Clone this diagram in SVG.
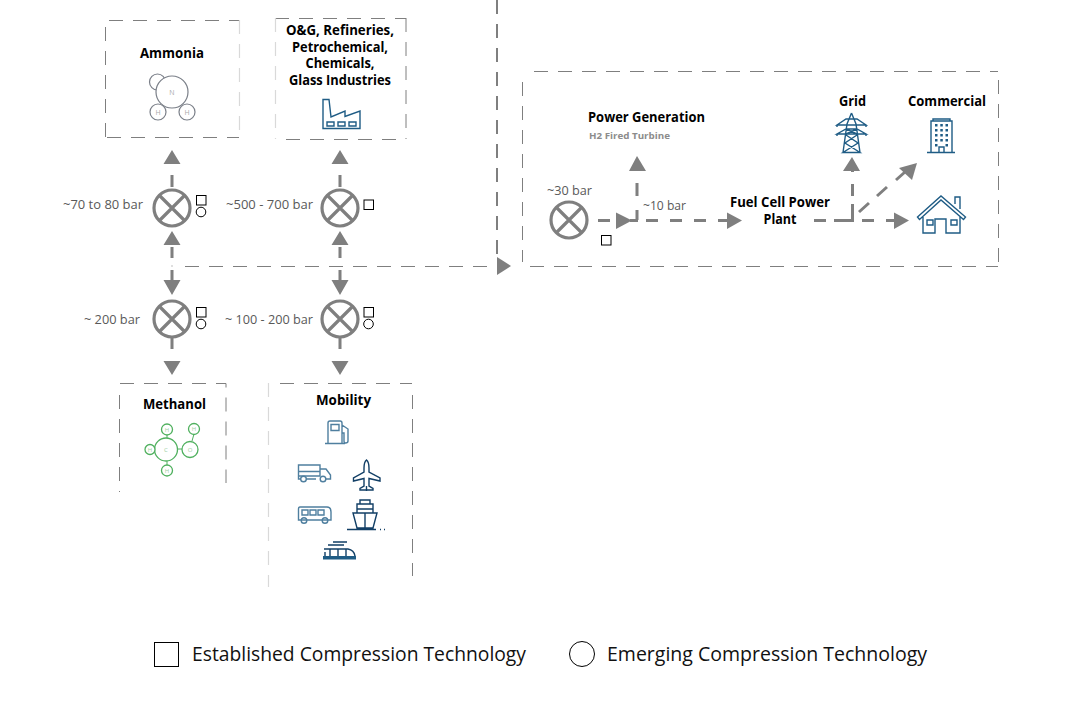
<svg xmlns="http://www.w3.org/2000/svg" width="1080" height="709" viewBox="0 0 1080 709">
<defs>
<style>
text{font-family:"Open Sans","Noto Sans","Liberation Sans",sans-serif}
.box{fill:none;stroke:#7f7f7f;stroke-width:1;stroke-dasharray:14 10}
.lt{stroke:#d9d9d9;stroke-width:1.2}
.cn{fill:none;stroke:#7f7f7f;stroke-width:3}
.hd{fill:#7f7f7f}
.thin{fill:none;stroke:#7f7f7f;stroke-width:1;stroke-dasharray:14 10}
.comp{fill:none;stroke:#7f7f7f;stroke-width:3.2}
.t{font-size:13.5px;font-weight:700;fill:#000;text-anchor:middle}
.v{font-size:13px;fill:#595959}
.mk{fill:#fff;stroke:#000;stroke-width:1}
.ic{fill:none;stroke:#1f5c85;stroke-width:1.4}
.icl{fill:none;stroke:#4f7f9f;stroke-width:1.4}
.icd{fill:none;stroke:#123f66;stroke-width:1.4}
.am{fill:#fff;stroke:#7a7f88;stroke-width:1.2}
.at{font-size:7px;fill:#aaa;text-anchor:middle}
.me{fill:#fff;stroke:#4fb05e;stroke-width:1.3}
.mt{font-size:6px;fill:#9ccf9f;text-anchor:middle}
.lg{font-size:20px;font-weight:500;fill:#111}
</style>
<g id="cp"><circle r="18" class="comp"/><path class="comp" d="M-12.500-12.500L12.500 12.500M12.500-12.500L-12.500 12.500"/></g>
</defs>
<rect width="1080" height="709" fill="#fff"/>
<g id="connectors">
<path class="thin" d="M185 266.500H497"/>
<path class="thin" d="M172 265.500v1"/>
<path fill="none" stroke="#7f7f7f" stroke-width="2" stroke-dasharray="14 10" d="M497 0V257"/>
<path class="hd" d="M497 257L511 266L497 275Z"/>
<path class="cn" d="M172 175V187M172 247V258M172 270V281M172 336V349M340 175V187M340 247V258M340 270V281M340 336V349"/>
<path class="hd" d="M172 150L180.500 164H163.500ZM340 150L348.500 164H331.500ZM172 231L180.500 245H163.500ZM340 231L348.500 245H331.500ZM163.500 280H180.500L172 295ZM331.500 280H348.500L340 295ZM163.500 361H180.500L172 375ZM331.500 361H348.500L340 375Z"/>
<path class="cn" d="M598 220.500H610M630 220.500H638M646 220.500H658M670 220.500H682M694 220.500H706M718 220.500H728"/>
<path class="hd" d="M616 212.500L632 220.500L616 229ZM727 212.500L742 220.500L727 229Z"/>
<path class="cn" d="M637 220V210M637 196V183"/>
<path class="hd" d="M637 156L646 171H629Z"/>
<path class="cn" d="M814 220.500H826M834 220.500H852.500V204M852.500 196V184M852.500 172V170M862 220.500H874M886 220.500H895"/>
<path class="hd" d="M852 157L860 171H843ZM894 212.500L909 220.500L894 229Z"/>
<path class="cn" d="M859 212L869 203M877 196L887 187M896 180L905 172"/>
<path class="hd" d="M917 163L912 180L899 168Z"/>
</g>
<g id="ammonia">
<path class="box" d="M105.500 137V20.500H239"/><path class="box" d="M107 137.500H239"/><path class="box lt" d="M239.500 20V137"/>
<text class="t" x="172" y="58" textLength="64" lengthAdjust="spacingAndGlyphs">Ammonia</text>
<circle class="am" cx="157.500" cy="82" r="8"/><circle class="am" cx="172" cy="92" r="16"/><circle class="am" cx="158" cy="112" r="8"/><circle class="am" cx="187" cy="112" r="8"/>
<text class="at" x="172" y="95">N</text><text class="at" x="158" y="115">H</text><text class="at" x="187" y="115">H</text>
</g>
<g id="industries">
<path class="box" d="M275 18.500H406"/><path class="box" d="M406 18V139"/><path class="box" d="M286 139.500H406"/><path class="box lt" d="M275.500 18V139"/>
<text class="t" x="340" y="35" textLength="108" lengthAdjust="spacingAndGlyphs">O&amp;G, Refineries,</text>
<text class="t" x="340" y="52" textLength="96" lengthAdjust="spacingAndGlyphs">Petrochemical,</text>
<text class="t" x="340" y="68" textLength="69" lengthAdjust="spacingAndGlyphs">Chemicals,</text>
<text class="t" x="340" y="85" textLength="102" lengthAdjust="spacingAndGlyphs">Glass Industries</text>
<path class="ic" d="M323 128.500V99.500H329L331 117L345 111V116.500L360 111V128.500Z"/>
<path class="ic" d="M327 122h7v4h-7zM338 122h7v4h-7zM349 122h7v4h-7z" stroke-width="1.1"/>
</g>
<g id="comp-70"><use href="#cp" x="172" y="208"/><rect class="mk" x="196.500" y="195.500" width="9.500" height="9.500"/><circle class="mk" cx="201" cy="212" r="4.800"/><text class="v" x="63" y="209" textLength="80" lengthAdjust="spacingAndGlyphs">~70 to 80 bar</text></g>
<g id="comp-500"><use href="#cp" x="340" y="208"/><rect class="mk" x="364" y="200" width="9.500" height="9.500"/><text class="v" x="226" y="209" textLength="87" lengthAdjust="spacingAndGlyphs">~500 - 700 bar</text></g>
<g id="comp-200"><use href="#cp" x="172" y="319"/><rect class="mk" x="196.500" y="307.500" width="9.500" height="9.500"/><circle class="mk" cx="201" cy="324" r="4.800"/><text class="v" x="84" y="324" textLength="56" lengthAdjust="spacingAndGlyphs">~ 200 bar</text></g>
<g id="comp-100"><use href="#cp" x="340" y="319"/><rect class="mk" x="364" y="307.500" width="9.500" height="9.500"/><circle class="mk" cx="368.500" cy="324" r="4.800"/><text class="v" x="225" y="324" textLength="88" lengthAdjust="spacingAndGlyphs">~ 100 - 200 bar</text></g>
<g id="methanol">
<path class="box" d="M120 383.500H226V483"/><path class="box" d="M119.500 395V492"/>
<text class="t" x="174.500" y="409" textLength="63" lengthAdjust="spacingAndGlyphs">Methanol</text>
<path d="M167 434V440M177 449H182M167 461V466M192 441L194 434" fill="none" stroke="#4fb05e"/>
<circle class="me" cx="166" cy="449.500" r="11.500"/><circle class="me" cx="167" cy="429.500" r="5.500"/><circle class="me" cx="150" cy="449.500" r="5"/><circle class="me" cx="167" cy="470.500" r="5.500"/><circle class="me" cx="190" cy="449.500" r="8"/><circle class="me" cx="194" cy="429" r="5.500"/>
<text class="mt" x="166" y="452">C</text><text class="mt" x="167" y="432">H</text><text class="mt" x="150" y="452">H</text><text class="mt" x="167" y="473">H</text><text class="mt" x="190" y="452">O</text><text class="mt" x="194" y="431">H</text>
</g>
<g id="mobility">
<path class="box" d="M280 383.500H412"/><path class="box" d="M412.500 395V576"/><path class="box lt" d="M268.500 383V587"/>
<text class="t" x="343.500" y="405" textLength="55" lengthAdjust="spacingAndGlyphs">Mobility</text>
<path class="icl" d="M328 443V423Q328 421 330 421H340Q342 421 342 423V443M325 443.500H345M331 424.500H339V430.500H331ZM342 425L348 429V441Q348 443 345.500 443Q344 443 344 441V433H342"/>
<path class="icl" d="M298.500 465H320V476H298.500ZM298.500 471.500H320M320 469H326L330.500 475V479H326M306 479H316M298.500 476V479H301"/><circle class="icl" cx="303.500" cy="479" r="2.800"/><circle class="icl" cx="323" cy="479" r="2.800"/>
<path class="icd" d="M366.500 460Q364 462 364 468V472L353.500 478V481L364 478.500V486L360 488.500V490H373V488.500L369 486V478.500L380 481V478L369 472V468Q369 462 366.500 460ZM366.500 486V491"/>
<path class="icl" d="M300 507H327Q331 507 331 512V520H298.500V509Q298.500 507 300 507ZM302 510H308V515H302ZM310 510H316V515H310ZM318 510H324V515H318Z"/><circle class="icl" cx="304" cy="520.500" r="2.800"/><circle class="icl" cx="325" cy="520.500" r="2.800"/>
<path class="icd" d="M360 500H370V504H360ZM357 504H373V513H357ZM357 509H373M353 513H377L373 528H357ZM365 513V528M347 529.500H376M380 529.500H381M384 529.500H385"/>
<path class="icd" d="M333 542H347M328 545H344M324 549H348Q354 550 355 556M330 549V556M338 549V556M346 549V556M325 552V556"/><path d="M323 556H356V559.500H323Z" fill="#1f5c85"/>
</g>
<g id="power-box">
<path class="box" d="M534 71.500H998"/><path class="box" d="M998.500 80V266"/><path class="box" d="M530 266.500H998"/><path class="box" d="M522.500 82V262"/>
</g>
<g id="comp-30"><use href="#cp" x="569" y="220"/><rect class="mk" x="601.500" y="235.500" width="9.500" height="9.500"/><text class="v" x="547" y="195" textLength="45" lengthAdjust="spacingAndGlyphs">~30 bar</text><text class="v" x="643" y="210" textLength="43" lengthAdjust="spacingAndGlyphs">~10 bar</text></g>
<g id="power-generation">
<text class="t" x="646.500" y="122" textLength="117" lengthAdjust="spacingAndGlyphs">Power Generation</text>
<text x="589" y="139" font-size="9.500px" font-weight="700" fill="#8c8c8c" textLength="81" lengthAdjust="spacingAndGlyphs">H2 Fired Turbine</text>
</g>
<g id="fuel-cell">
<text class="t" x="780" y="207" textLength="100" lengthAdjust="spacingAndGlyphs">Fuel Cell Power</text>
<text class="t" x="780" y="224" textLength="33" lengthAdjust="spacingAndGlyphs">Plant</text>
</g>
<g id="grid">
<text class="t" x="852.500" y="105.500" textLength="27" lengthAdjust="spacingAndGlyphs">Grid</text>
<path class="ic" d="M851.500 113L847 124L843 152.500M851.500 113L856 124L860 152.500M837 125H866L857 119H846ZM837 134H866L857 129H846ZM837 125V127M866 125V127M837 134V136M866 134V136M846 135L858 143L843 152.500H860L845 143L857 135M846 129L857 134M857 129L846 134"/>
</g>
<g id="commercial">
<text class="t" x="947" y="105.500" textLength="78" lengthAdjust="spacingAndGlyphs">Commercial</text>
<path class="ic" d="M931 152V121H952V152M933 121V119H950V121M927 152.500H955M939 152V147H944V152"/>
<path d="M935 124h2.500v2.500h-2.500zM940.300 124h2.500v2.500h-2.500zM945.500 124h2.500v2.500h-2.500zM935 129h2.500v2.500h-2.500zM940.300 129h2.500v2.500h-2.500zM945.500 129h2.500v2.500h-2.500zM935 134h2.500v2.500h-2.500zM940.300 134h2.500v2.500h-2.500zM945.500 134h2.500v2.500h-2.500zM935 139h2.500v2.500h-2.500zM940.300 139h2.500v2.500h-2.500zM945.500 139h2.500v2.500h-2.500zM935 144h2.500v2.500h-2.500zM945.500 144h2.500v2.500h-2.500z" fill="#1f5c85"/>
</g>
<g id="house">
<path class="ic" d="M917.500 217L941 196L965.500 217L963.500 219.500L941 200L919.500 219.500ZM923 217V233H935V219H946V233H960V217M955 204V197H960V209"/>
<path class="ic" d="M927 220h6v5h-6zM951 220h6v5h-6z" stroke-width="1.1"/>
</g>
<g id="legend">
<rect x="154.500" y="642.500" width="24" height="24" fill="#fff" stroke="#000"/>
<text class="lg" x="192" y="661" textLength="334" lengthAdjust="spacingAndGlyphs">Established Compression Technology</text>
<circle cx="582" cy="654" r="12.500" fill="#fff" stroke="#000"/>
<text class="lg" x="607" y="661" textLength="320" lengthAdjust="spacingAndGlyphs">Emerging Compression Technology</text>
</g>
</svg>
